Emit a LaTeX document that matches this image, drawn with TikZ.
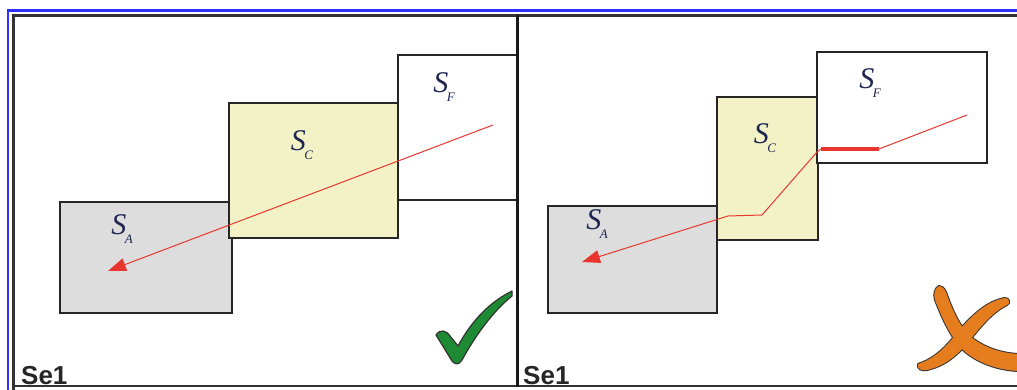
\documentclass[tikz,border=0pt]{standalone}
\usepackage{fontspec}
\setmainfont{Liberation Serif}
\setsansfont{Liberation Sans}
\usetikzlibrary{arrows.meta}
\definecolor{boxgray}{HTML}{DDDDDD}
\definecolor{boxyellow}{HTML}{F3F2C7}
\definecolor{pathred}{HTML}{E8362E}
\definecolor{labelnavy}{HTML}{1E2550}
\definecolor{framegray}{HTML}{333333}
\definecolor{frameblue}{HTML}{2F2FFF}
\definecolor{checkgreen}{HTML}{1F8A34}
\definecolor{xorange}{HTML}{E57C1E}
\newcommand\slab[1]{\itshape S\kern-1.5pt\raisebox{-0.28em}{\fontsize{13}{13}\selectfont #1}}
\begin{document}
\begin{tikzpicture}[x=1pt,y=-1pt,
  box/.style={draw=black!85, line width=1.6pt, rectangle, inner sep=0pt, outer sep=0pt},
  setlabel/.style={text=labelnavy, font=\fontsize{30}{30}\selectfont, inner sep=0pt},
  selabel/.style={text=black!85, font=\sffamily\bfseries\fontsize{26}{26}\selectfont, inner sep=0pt, anchor=base west},
  redpath/.style={draw=pathred, line width=1pt},
  redarrow/.style={redpath, -{Triangle[length=18pt,width=13pt]}},
  thickred/.style={draw=pathred, line width=4pt},
  markoutline/.style={draw=black!80, line width=2pt, line join=round},
  crossfill/.style={fill=xorange}]
\useasboundingbox (0,0) rectangle (1017,390);
\fill[white] (0,0) rectangle (1017,390);
% frames
\draw[frameblue, line width=2.5pt] (8,400) -- (8,10.5) -- (1030,10.5);
\draw[framegray, line width=2.5pt] (13.5,400) -- (13.5,15.5) -- (1030,15.5);
\draw[framegray, line width=2.5pt] (13.5,386) -- (1030,386);
% left panel boxes
\node[box, fill=boxgray, minimum width=172pt, minimum height=111pt] (la) at (146,257.5) {};
\node[box, fill=boxyellow, minimum width=169pt, minimum height=135pt] (lc) at (313.5,170.5) {};
\node[box, fill=white, minimum width=119pt, minimum height=145pt] (lf) at (457.5,127.5) {};
% right panel boxes
\node[box, fill=boxgray, minimum width=169pt, minimum height=107pt] (ra) at (632.5,259.5) {};
\node[box, fill=boxyellow, minimum width=101pt, minimum height=143pt] (rc) at (767.5,168.5) {};
\node[box, fill=white, minimum width=170pt, minimum height=111pt] (rf) at (902,107.5) {};
% divider
\draw[black!90, line width=3pt] (517,15.5) -- (517,387);
% labels
\node[setlabel] (laL) at (122,229) {\slab{A}};
\node[setlabel] (lcL) at (302,145) {\slab{C}};
\node[setlabel] (lfL) at (444,87) {\slab{F}};
\node[setlabel] (raL) at (597,224) {\slab{A}};
\node[setlabel] (rcL) at (765,138) {\slab{C}};
\node[setlabel] (rfL) at (870,83) {\slab{F}};
\node[selabel] (se1) at (21,384) {Se1};
\node[selabel] (se2) at (523,384) {Se1};
% left path
\coordinate (ls) at (493,125);
\coordinate (le) at (108,271);
\draw[redarrow] (ls) -- (le);
% right path
\coordinate (r1) at (967,115);
\coordinate (r2) at (879,149);
\coordinate (r3) at (821,149);
\coordinate (r4) at (817,152);
\coordinate (r5) at (762,215);
\coordinate (r6) at (728,216);
\coordinate (r7) at (582,262);
\draw[redpath] (r1) -- (r2);
\draw[thickred] (r2) -- (r3);
\draw[redpath] (r3) -- (r4) -- (r5) -- (r6);
\draw[redarrow] (r6) -- (r7);
% check mark
\fill[checkgreen, draw=black!80, line width=1.2pt, line join=round] (436,335) .. controls (440,329) and (446,330) .. (450,336) -- (458,346) .. controls (472,320) and (490,302) .. (512,291) -- (512,296) .. controls (492,312) and (474,338) .. (462,360) .. controls (459,365) and (455,365) .. (452,361) -- cycle;
% cross: outlines first, then fills so the middle merges
\def\strokeA{(939,286) .. controls (942,286) and (944,288) .. (946,292) .. controls (952,309) and (959,326) .. (971,337) .. controls (985,348) and (1001,353) .. (1018,354) -- (1018,371) .. controls (998,370) and (977,363) .. (963,350) .. controls (951,338) and (942,318) .. (935,300) .. controls (933,294) and (935,288) .. cycle}
\def\strokeB{(1005,298) .. controls (1009,298) and (1011,303) .. (1007,305) .. controls (993,312) and (982,325) .. (970,340) .. controls (958,355) and (945,366) .. (927,370) .. controls (921,371) and (917,369) .. (918,364) .. controls (931,360) and (942,351) .. (952,339) .. controls (967,320) and (985,301) .. cycle}
\path[markoutline] \strokeA;
\path[markoutline] \strokeB;
\path[crossfill] \strokeA;
\path[crossfill] \strokeB;
\end{tikzpicture}
\end{document}
